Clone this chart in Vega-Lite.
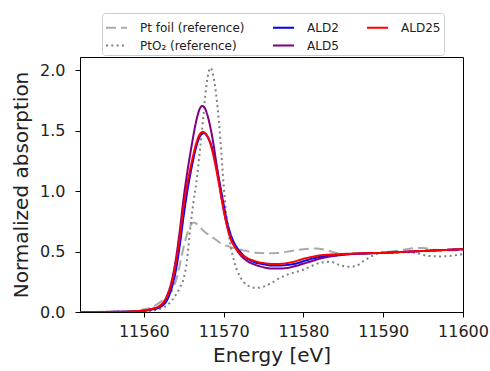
{
  "$schema": "https://vega.github.io/schema/vega-lite/v6.json",
  "autosize": {"type": "none"},
  "width": 383,
  "height": 255,
  "padding": {"left": 80, "top": 57, "right": 27, "bottom": 59},
  "background": "white",
  "config": {
    "view": {"stroke": "black", "strokeWidth": 1},
    "font": "DejaVu Sans",
    "axis": {
      "labelFont": "DejaVu Sans", "labelFontSize": 16, "labelColor": "#222",
      "titleFont": "DejaVu Sans", "titleFontSize": 20, "titleFontWeight": "normal", "titleColor": "#222",
      "domainColor": "black", "tickColor": "black", "tickSize": 5, "grid": false
    }
  },
  "data": {"values": [
    {"s":"Pt foil (reference)","e":11552,"v":0},
    {"s":"Pt foil (reference)","e":11556,"v":0.002},
    {"s":"Pt foil (reference)","e":11558,"v":0.005},
    {"s":"Pt foil (reference)","e":11559,"v":0.01},
    {"s":"Pt foil (reference)","e":11560,"v":0.02},
    {"s":"Pt foil (reference)","e":11561,"v":0.04},
    {"s":"Pt foil (reference)","e":11562,"v":0.08},
    {"s":"Pt foil (reference)","e":11563,"v":0.14},
    {"s":"Pt foil (reference)","e":11563.7,"v":0.2},
    {"s":"Pt foil (reference)","e":11564.2,"v":0.3},
    {"s":"Pt foil (reference)","e":11564.6,"v":0.42},
    {"s":"Pt foil (reference)","e":11565,"v":0.54},
    {"s":"Pt foil (reference)","e":11565.5,"v":0.66},
    {"s":"Pt foil (reference)","e":11566,"v":0.73},
    {"s":"Pt foil (reference)","e":11566.3,"v":0.74},
    {"s":"Pt foil (reference)","e":11566.8,"v":0.72},
    {"s":"Pt foil (reference)","e":11567.5,"v":0.67},
    {"s":"Pt foil (reference)","e":11568,"v":0.645},
    {"s":"Pt foil (reference)","e":11569,"v":0.6},
    {"s":"Pt foil (reference)","e":11569.6,"v":0.57},
    {"s":"Pt foil (reference)","e":11570.5,"v":0.545},
    {"s":"Pt foil (reference)","e":11571.5,"v":0.525},
    {"s":"Pt foil (reference)","e":11572.5,"v":0.51},
    {"s":"Pt foil (reference)","e":11574,"v":0.49},
    {"s":"Pt foil (reference)","e":11575.5,"v":0.485},
    {"s":"Pt foil (reference)","e":11577,"v":0.49},
    {"s":"Pt foil (reference)","e":11578.5,"v":0.505},
    {"s":"Pt foil (reference)","e":11580,"v":0.52},
    {"s":"Pt foil (reference)","e":11581.5,"v":0.525},
    {"s":"Pt foil (reference)","e":11583,"v":0.51},
    {"s":"Pt foil (reference)","e":11584,"v":0.49},
    {"s":"Pt foil (reference)","e":11585.5,"v":0.48},
    {"s":"Pt foil (reference)","e":11588,"v":0.48},
    {"s":"Pt foil (reference)","e":11590,"v":0.49},
    {"s":"Pt foil (reference)","e":11592,"v":0.51},
    {"s":"Pt foil (reference)","e":11594,"v":0.528},
    {"s":"Pt foil (reference)","e":11595,"v":0.53},
    {"s":"Pt foil (reference)","e":11596.5,"v":0.515},
    {"s":"Pt foil (reference)","e":11598,"v":0.51},
    {"s":"Pt foil (reference)","e":11600,"v":0.51},

    {"s":"PtO₂ (reference)","e":11552,"v":0},
    {"s":"PtO₂ (reference)","e":11558,"v":0.002},
    {"s":"PtO₂ (reference)","e":11560,"v":0.005},
    {"s":"PtO₂ (reference)","e":11561,"v":0.01},
    {"s":"PtO₂ (reference)","e":11562,"v":0.025},
    {"s":"PtO₂ (reference)","e":11563,"v":0.06},
    {"s":"PtO₂ (reference)","e":11564,"v":0.14},
    {"s":"PtO₂ (reference)","e":11564.5,"v":0.2},
    {"s":"PtO₂ (reference)","e":11565,"v":0.28},
    {"s":"PtO₂ (reference)","e":11565.4,"v":0.42},
    {"s":"PtO₂ (reference)","e":11565.8,"v":0.68},
    {"s":"PtO₂ (reference)","e":11566.2,"v":0.9},
    {"s":"PtO₂ (reference)","e":11566.6,"v":1.08},
    {"s":"PtO₂ (reference)","e":11567,"v":1.32},
    {"s":"PtO₂ (reference)","e":11567.4,"v":1.58},
    {"s":"PtO₂ (reference)","e":11567.8,"v":1.85},
    {"s":"PtO₂ (reference)","e":11568.1,"v":1.98},
    {"s":"PtO₂ (reference)","e":11568.35,"v":2.02},
    {"s":"PtO₂ (reference)","e":11568.8,"v":1.92},
    {"s":"PtO₂ (reference)","e":11569.2,"v":1.72},
    {"s":"PtO₂ (reference)","e":11569.6,"v":1.42},
    {"s":"PtO₂ (reference)","e":11570,"v":1.05},
    {"s":"PtO₂ (reference)","e":11570.3,"v":0.82},
    {"s":"PtO₂ (reference)","e":11570.8,"v":0.58},
    {"s":"PtO₂ (reference)","e":11571.4,"v":0.4},
    {"s":"PtO₂ (reference)","e":11572,"v":0.3},
    {"s":"PtO₂ (reference)","e":11573,"v":0.22},
    {"s":"PtO₂ (reference)","e":11574,"v":0.2},
    {"s":"PtO₂ (reference)","e":11575,"v":0.21},
    {"s":"PtO₂ (reference)","e":11576,"v":0.24},
    {"s":"PtO₂ (reference)","e":11577,"v":0.28},
    {"s":"PtO₂ (reference)","e":11578,"v":0.31},
    {"s":"PtO₂ (reference)","e":11579,"v":0.33},
    {"s":"PtO₂ (reference)","e":11580,"v":0.35},
    {"s":"PtO₂ (reference)","e":11581,"v":0.38},
    {"s":"PtO₂ (reference)","e":11582,"v":0.405},
    {"s":"PtO₂ (reference)","e":11583.4,"v":0.415},
    {"s":"PtO₂ (reference)","e":11584.5,"v":0.39},
    {"s":"PtO₂ (reference)","e":11585.5,"v":0.375},
    {"s":"PtO₂ (reference)","e":11586.5,"v":0.38},
    {"s":"PtO₂ (reference)","e":11587.5,"v":0.42},
    {"s":"PtO₂ (reference)","e":11588.5,"v":0.46},
    {"s":"PtO₂ (reference)","e":11589.5,"v":0.485},
    {"s":"PtO₂ (reference)","e":11591,"v":0.49},
    {"s":"PtO₂ (reference)","e":11592.5,"v":0.495},
    {"s":"PtO₂ (reference)","e":11594,"v":0.49},
    {"s":"PtO₂ (reference)","e":11595.5,"v":0.465},
    {"s":"PtO₂ (reference)","e":11597,"v":0.46},
    {"s":"PtO₂ (reference)","e":11598.5,"v":0.465},
    {"s":"PtO₂ (reference)","e":11600,"v":0.48},

    {"s":"ALD2","e":11552,"v":0},
    {"s":"ALD2","e":11558,"v":0.002},
    {"s":"ALD2","e":11560,"v":0.01},
    {"s":"ALD2","e":11561,"v":0.02},
    {"s":"ALD2","e":11562,"v":0.04},
    {"s":"ALD2","e":11563,"v":0.11},
    {"s":"ALD2","e":11563.5,"v":0.2},
    {"s":"ALD2","e":11564,"v":0.34},
    {"s":"ALD2","e":11564.5,"v":0.55},
    {"s":"ALD2","e":11565,"v":0.8},
    {"s":"ALD2","e":11565.5,"v":1.02},
    {"s":"ALD2","e":11566,"v":1.2},
    {"s":"ALD2","e":11566.5,"v":1.35},
    {"s":"ALD2","e":11567,"v":1.45},
    {"s":"ALD2","e":11567.5,"v":1.48},
    {"s":"ALD2","e":11568,"v":1.45},
    {"s":"ALD2","e":11568.5,"v":1.37},
    {"s":"ALD2","e":11569,"v":1.24},
    {"s":"ALD2","e":11569.5,"v":1.07},
    {"s":"ALD2","e":11570,"v":0.89},
    {"s":"ALD2","e":11570.5,"v":0.73},
    {"s":"ALD2","e":11571,"v":0.62},
    {"s":"ALD2","e":11571.7,"v":0.53},
    {"s":"ALD2","e":11572.3,"v":0.48},
    {"s":"ALD2","e":11573,"v":0.44},
    {"s":"ALD2","e":11574,"v":0.41},
    {"s":"ALD2","e":11575,"v":0.395},
    {"s":"ALD2","e":11576,"v":0.385},
    {"s":"ALD2","e":11577,"v":0.385},
    {"s":"ALD2","e":11578,"v":0.39},
    {"s":"ALD2","e":11579,"v":0.4},
    {"s":"ALD2","e":11580,"v":0.42},
    {"s":"ALD2","e":11581,"v":0.44},
    {"s":"ALD2","e":11582,"v":0.455},
    {"s":"ALD2","e":11583,"v":0.465},
    {"s":"ALD2","e":11584,"v":0.47},
    {"s":"ALD2","e":11586,"v":0.48},
    {"s":"ALD2","e":11590,"v":0.49},
    {"s":"ALD2","e":11595,"v":0.505},
    {"s":"ALD2","e":11600,"v":0.52},

    {"s":"ALD5","e":11552,"v":0},
    {"s":"ALD5","e":11558,"v":0.003},
    {"s":"ALD5","e":11560,"v":0.012},
    {"s":"ALD5","e":11561,"v":0.025},
    {"s":"ALD5","e":11562,"v":0.05},
    {"s":"ALD5","e":11563,"v":0.15},
    {"s":"ALD5","e":11563.5,"v":0.26},
    {"s":"ALD5","e":11564,"v":0.43},
    {"s":"ALD5","e":11564.5,"v":0.67},
    {"s":"ALD5","e":11565,"v":0.95},
    {"s":"ALD5","e":11565.5,"v":1.18},
    {"s":"ALD5","e":11566,"v":1.38},
    {"s":"ALD5","e":11566.5,"v":1.56},
    {"s":"ALD5","e":11567,"v":1.68},
    {"s":"ALD5","e":11567.3,"v":1.705},
    {"s":"ALD5","e":11567.7,"v":1.68},
    {"s":"ALD5","e":11568.2,"v":1.57},
    {"s":"ALD5","e":11568.7,"v":1.4},
    {"s":"ALD5","e":11569.2,"v":1.18},
    {"s":"ALD5","e":11569.7,"v":0.96},
    {"s":"ALD5","e":11570.2,"v":0.78},
    {"s":"ALD5","e":11570.8,"v":0.63},
    {"s":"ALD5","e":11571.5,"v":0.53},
    {"s":"ALD5","e":11572,"v":0.48},
    {"s":"ALD5","e":11573,"v":0.42},
    {"s":"ALD5","e":11574,"v":0.39},
    {"s":"ALD5","e":11575,"v":0.37},
    {"s":"ALD5","e":11576,"v":0.36},
    {"s":"ALD5","e":11577,"v":0.36},
    {"s":"ALD5","e":11578,"v":0.365},
    {"s":"ALD5","e":11579,"v":0.38},
    {"s":"ALD5","e":11580,"v":0.4},
    {"s":"ALD5","e":11581,"v":0.42},
    {"s":"ALD5","e":11582,"v":0.44},
    {"s":"ALD5","e":11583,"v":0.455},
    {"s":"ALD5","e":11584,"v":0.465},
    {"s":"ALD5","e":11586,"v":0.48},
    {"s":"ALD5","e":11590,"v":0.49},
    {"s":"ALD5","e":11595,"v":0.505},
    {"s":"ALD5","e":11600,"v":0.52},

    {"s":"ALD25","e":11552,"v":0},
    {"s":"ALD25","e":11556,"v":0},
    {"s":"ALD25","e":11558,"v":0.003},
    {"s":"ALD25","e":11560,"v":0.012},
    {"s":"ALD25","e":11561,"v":0.025},
    {"s":"ALD25","e":11562,"v":0.05},
    {"s":"ALD25","e":11563,"v":0.14},
    {"s":"ALD25","e":11563.5,"v":0.24},
    {"s":"ALD25","e":11564,"v":0.4},
    {"s":"ALD25","e":11564.5,"v":0.62},
    {"s":"ALD25","e":11565,"v":0.88},
    {"s":"ALD25","e":11565.5,"v":1.08},
    {"s":"ALD25","e":11566,"v":1.24},
    {"s":"ALD25","e":11566.5,"v":1.38},
    {"s":"ALD25","e":11567,"v":1.47},
    {"s":"ALD25","e":11567.4,"v":1.49},
    {"s":"ALD25","e":11567.8,"v":1.47},
    {"s":"ALD25","e":11568.3,"v":1.4},
    {"s":"ALD25","e":11568.8,"v":1.27},
    {"s":"ALD25","e":11569.3,"v":1.1},
    {"s":"ALD25","e":11569.8,"v":0.92},
    {"s":"ALD25","e":11570.3,"v":0.75},
    {"s":"ALD25","e":11570.8,"v":0.62},
    {"s":"ALD25","e":11571.5,"v":0.53},
    {"s":"ALD25","e":11572,"v":0.49},
    {"s":"ALD25","e":11573,"v":0.445},
    {"s":"ALD25","e":11574,"v":0.42},
    {"s":"ALD25","e":11575,"v":0.405},
    {"s":"ALD25","e":11576,"v":0.398},
    {"s":"ALD25","e":11577,"v":0.398},
    {"s":"ALD25","e":11578,"v":0.405},
    {"s":"ALD25","e":11579,"v":0.42},
    {"s":"ALD25","e":11580,"v":0.44},
    {"s":"ALD25","e":11581,"v":0.455},
    {"s":"ALD25","e":11582,"v":0.468},
    {"s":"ALD25","e":11584,"v":0.477},
    {"s":"ALD25","e":11586,"v":0.483},
    {"s":"ALD25","e":11590,"v":0.49},
    {"s":"ALD25","e":11595,"v":0.505},
    {"s":"ALD25","e":11600,"v":0.52}
  ]},
  "mark": {"type": "line", "strokeWidth": 2, "interpolate": "monotone", "clip": true},
  "encoding": {
    "x": {"field": "e", "type": "quantitative", "title": "Energy [eV]",
      "scale": {"domain": [11552, 11600], "nice": false, "zero": false},
      "axis": {"values": [11560, 11570, 11580, 11590, 11600], "format": "d", "labelPadding": 6, "titlePadding": 6, "labelOverlap": false, "labelBound": false, "labelFlush": false}},
    "y": {"field": "v", "type": "quantitative", "title": "Normalized absorption",
      "scale": {"domain": [0, 2.11], "nice": false},
      "axis": {"values": [0, 0.5, 1, 1.5, 2], "format": ".1f", "labelPadding": 10, "titlePadding": 8, "labelFlush": false}},
    "color": {"field": "s", "type": "nominal",
      "scale": {"domain": ["Pt foil (reference)", "PtO₂ (reference)", "ALD2", "ALD5", "ALD25"],
                "range": ["#aaaaaa", "#808080", "#0000ff", "#800080", "#ff0000"]},
      "legend": {"title": null, "orient": "none", "legendX": 22, "legendY": -44, "columns": 3,
        "symbolType": "stroke", "symbolSize": 441, "symbolStrokeWidth": 2,
        "labelFont": "DejaVu Sans", "labelFontSize": 12, "labelColor": "#222", "labelOffset": 12,
        "strokeColor": "#cccccc", "fillColor": "white", "cornerRadius": 3, "padding": 3,
        "rowPadding": -3, "columnPadding": 24, "labelLimit": 300}},
    "strokeDash": {"field": "s", "type": "nominal",
      "scale": {"domain": ["Pt foil (reference)", "PtO₂ (reference)", "ALD2", "ALD5", "ALD25"],
                "range": [[10, 5], [2, 3.3], [1, 0], [1, 0], [1, 0]]},
      "legend": null}
  }
}
